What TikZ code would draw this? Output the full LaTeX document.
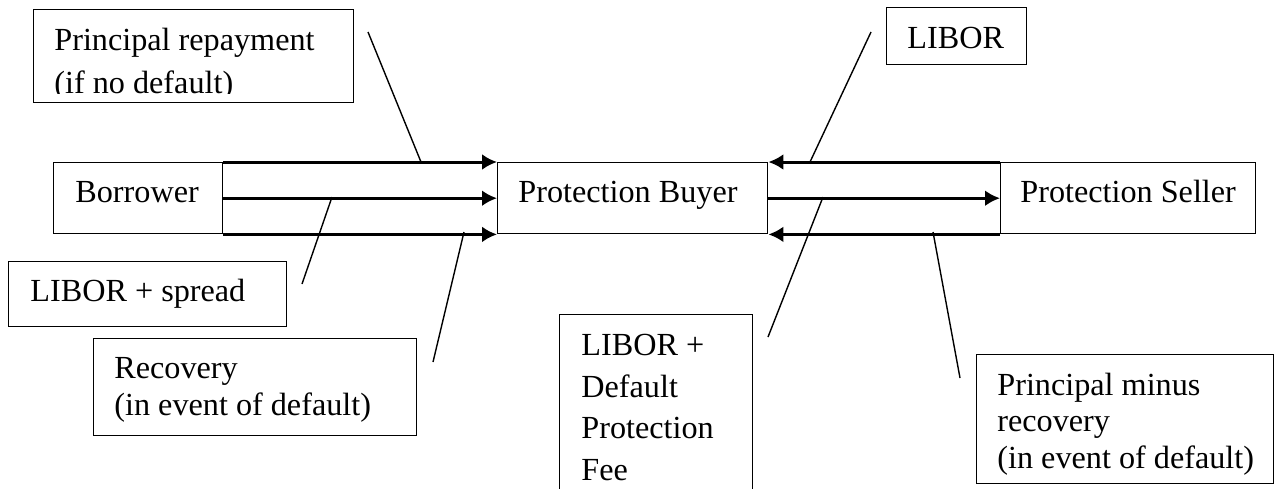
\documentclass[tikz,border=0pt]{standalone}
\usepackage{fontspec}
\setmainfont{Liberation Serif}
\usetikzlibrary{arrows.meta}
\begin{document}
\begin{tikzpicture}[x=0.5pt,y=-0.5pt,
  box/.style={draw, line width=0.7pt, inner sep=0pt, anchor=north west},
  txt/.style={anchor=base west, inner sep=0pt, font=\fontsize{16.1}{19}\selectfont},
  flow/.style={line width=1.5pt, -{Latex[length=7.5pt,width=8pt]}},
  lead/.style={line width=0.7pt}]
\useasboundingbox (0,0) rectangle (1277,488);
\clip (0,0) rectangle (1277,488);

% boxes
\node[box, minimum width=160pt, minimum height=46.5pt] (prin) at (33,9) {};
\node[box, minimum width=70pt, minimum height=28.5pt] (libor) at (886,7) {};
\node[box, minimum width=84.5pt, minimum height=35.5pt] (borrower) at (53,162) {};
\node[box, minimum width=135pt, minimum height=35.5pt] (buyer) at (497,162) {};
\node[box, minimum width=127.5pt, minimum height=35.5pt] (seller) at (1000,162) {};
\node[box, minimum width=139pt, minimum height=32.5pt] (spread) at (8,261) {};
\node[box, minimum width=161.5pt, minimum height=48.5pt] (recov) at (93,338) {};
\node[box, minimum width=96.5pt, minimum height=100pt] (fee) at (559,314) {};
\node[box, minimum width=148.5pt, minimum height=64.5pt] (pmr) at (976,354) {};

% texts
\begin{scope}
\clip (33,9) rectangle (353,93.5);
\node[txt] (t1a) at (54,50) {Principal repayment};
\node[txt] (t1b) at (54,93) {(if no default)};
\end{scope}
\node[txt] (t2) at (907,48) {LIBOR};
\node[txt] (t3) at (75,202) {Borrower};
\node[txt] (t4) at (518,202) {Protection Buyer};
\node[txt] (t5) at (1020,202) {Protection Seller};
\node[txt] (t6) at (30,301) {LIBOR + spread};
\node[txt] (t7a) at (114,378) {Recovery};
\node[txt] (t7b) at (114,415) {(in event of default)};
\node[txt] (t8a) at (581,355) {LIBOR +};
\node[txt] (t8b) at (581,397) {Default};
\node[txt] (t8c) at (581,438) {Protection};
\node[txt] (t8d) at (581,480) {Fee};
\node[txt] (t9a) at (997,395) {Principal minus};
\node[txt] (t9b) at (997,431) {recovery};
\node[txt] (t9c) at (997,468) {(in event of default)};

% flows
\draw[flow] (borrower.north east) -- (buyer.north west);
\draw[flow] (borrower.east) -- (buyer.west);
\draw[flow] (borrower.south east) -- (buyer.south west);
\draw[flow] (seller.north west) -- (buyer.north east);
\draw[flow] (buyer.east) -- (seller.west);
\draw[flow] (seller.south west) -- (buyer.south east);

% leader lines
\coordinate (a1) at (368,32);  \coordinate (b1) at (421,162);
\coordinate (a2) at (302,284); \coordinate (b2) at (332,197);
\coordinate (a3) at (433,362); \coordinate (b3) at (464,232);
\coordinate (a4) at (871,32);  \coordinate (b4) at (810,162);
\coordinate (a5) at (768,337); \coordinate (b5) at (823,197);
\coordinate (a6) at (960,378); \coordinate (b6) at (933,232);
\draw[lead] (a1) -- (b1);
\draw[lead] (a2) -- (b2);
\draw[lead] (a3) -- (b3);
\draw[lead] (a4) -- (b4);
\draw[lead] (a5) -- (b5);
\draw[lead] (a6) -- (b6);
\end{tikzpicture}
\end{document}
